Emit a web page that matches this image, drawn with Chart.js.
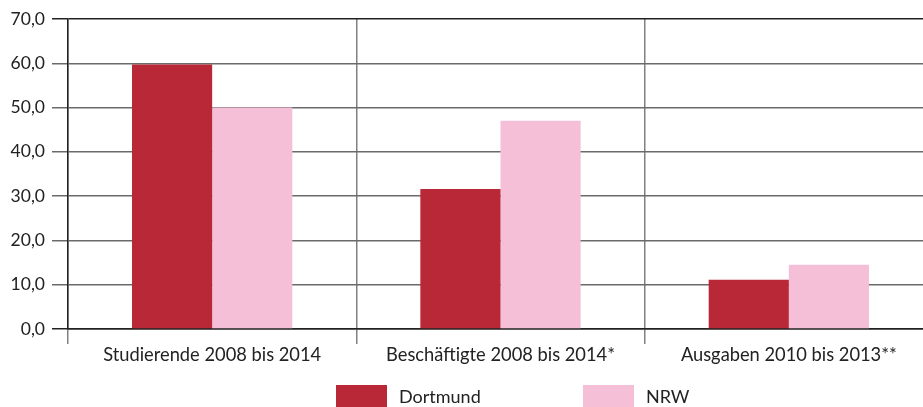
<!DOCTYPE html>
<html>
<head>
<meta charset="utf-8">
<script src="https://cdn.jsdelivr.net/npm/chart.js@4/dist/chart.umd.min.js"></script>
<style>
  html, body { margin: 0; padding: 0; background: #fff; overflow: hidden; }
  #wrap { position: absolute; left: 0; top: 0; width: 933px; height: 407px; }
</style>
</head>
<body>
<div id="wrap"><canvas id="c" width="933" height="407"></canvas></div>
<script>
const categories = ['Studierende 2008 bis 2014', 'Beschäftigte 2008 bis 2014*', 'Ausgaben 2010 bis 2013**'];
const seriesNames = ['Dortmund', 'NRW'];
const dortmund = [59.7, 31.6, 11.1];
const nrw = [50.0, 47.0, 14.5];
const yTicks = [0, 10, 20, 30, 40, 50, 60, 70];

const FONT = 'Lato, sans-serif';
const TEXT = '#222';

const legendPlugin = {
  id: 'customLegend',
  afterDraw(chart) {
    const ctx = chart.ctx;
    const items = [
      { x: 336, textX: 399 },
      { x: 583, textX: 646 }
    ];
    ctx.save();
    chart.data.datasets.forEach((ds, i) => {
      const it = items[i];
      ctx.fillStyle = ds.backgroundColor;
      ctx.fillRect(it.x, 385, 51, 22);
      ctx.fillStyle = TEXT;
      ctx.font = '18px ' + FONT;
      ctx.textBaseline = 'middle';
      ctx.textAlign = 'left';
      ctx.fillText(ds.label, it.textX, 397);
    });
    ctx.restore();
  }
};

new Chart(document.getElementById('c'), {
  type: 'bar',
  data: {
    labels: categories,
    datasets: [
      { label: seriesNames[0], data: dortmund, backgroundColor: '#b82837', categoryPercentage: 0.556, barPercentage: 1.0 },
      { label: seriesNames[1], data: nrw, backgroundColor: '#f6bfd8', categoryPercentage: 0.556, barPercentage: 1.0 }
    ]
  },
  options: {
    responsive: false,
    animation: false,
    layout: { padding: { top: 19, right: 0, left: 0, bottom: 0 } },
    plugins: { legend: { display: false }, tooltip: { enabled: false } },
    scales: {
      x: {
        offset: true,
        grid: { display: true, offset: true, color: '#808080', lineWidth: 1.5, tickLength: 15, drawOnChartArea: true },
        border: { display: true, color: '#222', width: 1.5 },
        ticks: { color: TEXT, font: { family: FONT, size: 18.3 }, padding: 0, maxRotation: 0 },
        afterFit(scale) { scale.height = 78; }
      },
      y: {
        min: 0, max: 70,
        afterBuildTicks(scale) { scale.ticks = yTicks.map(v => ({ value: v })); },
        grid: {
          tickLength: 16,
          color: ctx => (ctx.tick && (ctx.tick.value === 0 || ctx.tick.value === 70)) ? '#222' : '#6a6a6a',
          lineWidth: 1.5
        },
        border: { display: true, color: '#222', width: 1.5 },
        ticks: {
          color: TEXT, font: { family: FONT, size: 17.5 }, padding: 7,
          callback: v => v.toFixed(1).replace('.', ',')
        },
        afterFit(scale) { scale.width = 68; }
      }
    }
  },
  plugins: [legendPlugin]
});
</script>
</body>
</html>
